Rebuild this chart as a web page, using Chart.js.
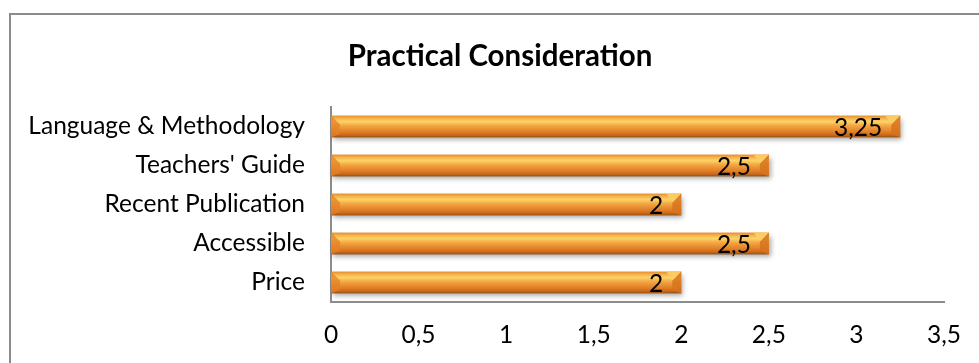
<!DOCTYPE html>
<html>
<head>
<meta charset="utf-8">
<script src="https://cdn.jsdelivr.net/npm/chart.js@4"></script>
<style>
  html, body { margin: 0; padding: 0; background: #fff; }
  #wrap { width: 979px; height: 363px; position: relative; }
</style>
</head>
<body>
<div id="wrap"><canvas id="practicalChart" width="979" height="363"></canvas></div>
<script>
const chartTitle = 'Practical Consideration';
const categories = ['Language & Methodology', "Teachers' Guide", 'Recent Publication', 'Accessible', 'Price'];
const scores = [3.25, 2.5, 2, 2.5, 2];
const tickValues = [0, 0.5, 1, 1.5, 2, 2.5, 3, 3.5];

const FONT = 'Lato, "Open Sans", sans-serif';

function commaNum(v) {
    return String(v).replace('.', ',');
}

// outer frame like the office chart box (cut off right/bottom) + title
const framePlugin = {
    id: 'frame',
    beforeDraw(chart) {
        const ctx = chart.ctx;
        ctx.save();
        ctx.fillStyle = '#fff';
        ctx.fillRect(0, 0, chart.width, chart.height);
        ctx.strokeStyle = '#8c8c8c';
        ctx.lineWidth = 2;
        ctx.strokeRect(10, 14, 1100, 500);
        ctx.fillStyle = '#000';
        ctx.font = 'bold 29.5px ' + FONT;
        ctx.textAlign = 'center';
        ctx.textBaseline = 'middle';
        ctx.fillText(chartTitle, 500, 56);
        ctx.restore();
    }
};

// beveled orange bars drawn from the bar elements' scale positions
const bevelBars = {
    id: 'bevelBars',
    afterDatasetsDraw(chart) {
        const ctx = chart.ctx;
        const meta = chart.getDatasetMeta(0);
        meta.data.forEach((bar, i) => {
            const x0 = bar.base, x1 = bar.x;
            const y0 = bar.y - bar.height / 2, y1 = bar.y + bar.height / 2;
            const h = y1 - y0;

            ctx.save();
            ctx.shadowColor = 'rgba(0,0,0,0.35)';
            ctx.shadowBlur = 5;
            ctx.shadowOffsetX = 2;
            ctx.shadowOffsetY = 3;
            const g = ctx.createLinearGradient(0, y0, 0, y1);
            g.addColorStop(0, '#e48a2c');
            g.addColorStop(0.12, '#f6b14a');
            g.addColorStop(0.28, '#fcd466');
            g.addColorStop(0.45, '#f5a844');
            g.addColorStop(0.75, '#e07e26');
            g.addColorStop(0.9, '#c7691c');
            g.addColorStop(1, '#8e4f14');
            ctx.fillStyle = g;
            ctx.fillRect(x0, y0, x1 - x0, h);
            ctx.restore();

            // left end facet
            const b = Math.min(9, h * 0.45);
            ctx.save();
            ctx.beginPath();
            ctx.moveTo(x0, y0);
            ctx.lineTo(x0 + b, y0 + b);
            ctx.lineTo(x0 + b, y1 - b * 0.4);
            ctx.lineTo(x0, y1);
            ctx.closePath();
            ctx.fillStyle = 'rgba(228,130,38,0.75)';
            ctx.fill();

            // right end facet
            ctx.beginPath();
            ctx.moveTo(x1, y0);
            ctx.lineTo(x1 - b, y0 + b);
            ctx.lineTo(x1 - b, y1 - b * 0.4);
            ctx.lineTo(x1, y1);
            ctx.closePath();
            ctx.fillStyle = 'rgba(215,115,30,0.85)';
            ctx.fill();
            ctx.beginPath();
            ctx.moveTo(x1, y0);
            ctx.lineTo(x1 - b, y0 + b);
            ctx.lineTo(x1 - b - 6, y0);
            ctx.closePath();
            ctx.fillStyle = 'rgba(252,205,100,0.95)';
            ctx.fill();
            ctx.restore();

            // value label inside the end
            ctx.save();
            ctx.fillStyle = '#000';
            ctx.font = '24.5px ' + FONT;
            ctx.textAlign = 'right';
            ctx.textBaseline = 'middle';
            ctx.fillText(commaNum(scores[i]), x1 - 18, bar.y + 2);
            ctx.restore();
        });
    }
};

const ctx = document.getElementById('practicalChart').getContext('2d');
const chart = new Chart(ctx, {
    type: 'bar',
    data: {
        labels: categories,
        datasets: [{
            data: scores,
            backgroundColor: 'rgba(0,0,0,0)',
            borderWidth: 0,
            barPercentage: 0.56,
            categoryPercentage: 1
        }]
    },
    options: {
        indexAxis: 'y',
        responsive: false,
        animation: false,
        layout: { padding: { top: 107, right: 33, left: 0, bottom: 0 } },
        plugins: {
            legend: { display: false },
            tooltip: { enabled: false },
            title: { display: false }
        },
        scales: {
            x: {
                min: 0,
                max: 3.5,
                afterBuildTicks(scale) {
                    scale.ticks = tickValues.map(v => ({ value: v }));
                },
                afterFit(scale) { scale.height = 61; },
                grid: { display: false, drawTicks: false },
                border: { display: true, color: '#8c8c8c', width: 2 },
                ticks: {
                    color: '#000',
                    padding: 18,
                    font: { family: FONT, size: 24.5 },
                    callback: v => commaNum(v)
                }
            },
            y: {
                afterFit(scale) { scale.width = 331; },
                grid: { display: false, drawTicks: false },
                border: { display: true, color: '#8c8c8c', width: 2 },
                ticks: {
                    color: '#000',
                    padding: 26,
                    font: { family: FONT, size: 24.5 }
                }
            }
        }
    },
    plugins: [framePlugin, bevelBars]
});
</script>
</body>
</html>
